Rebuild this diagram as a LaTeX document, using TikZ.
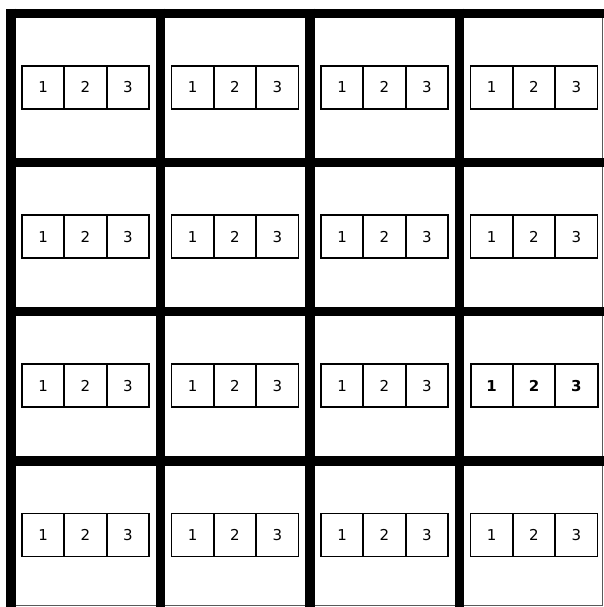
\documentclass[tikz,border=0pt]{standalone}
\usepackage{fontspec}
\setmainfont{DejaVu Sans}
\begin{document}
\begin{tikzpicture}[x=1pt,y=-1pt,
  gridline/.style={line width=9.5pt,black},
  frame/.style={line width=1pt,gray!70!black},
  digitbox/.style={draw,line width=1.8pt,minimum width=42.33pt,minimum height=43pt,inner sep=0pt,
    text height=11pt,text depth=0pt,font=\fontsize{15}{17}\selectfont},
  boldbox/.style={digitbox,line width=2pt,font=\fontsize{15}{17}\selectfont\bfseries}]
\useasboundingbox (0,0) rectangle (604,607);
\fill[white] (0,0) rectangle (604,607);
% thin outer edges
\draw[frame] (6,605.5) -- (602.5,605.5) -- (602.5,9);
% thick grid lines
\foreach \cx in {11,160.5,310,459.5}
  \draw[gridline] (\cx,8.75) -- (\cx,607);
\foreach \cy in {13.5,162.5,311.5,461}
  \draw[gridline] (6.25,\cy) -- (604,\cy);
% digit boxes
\foreach \cx [count=\i] in {11,160.5,310,459.5} {
  \foreach \cy [count=\j] in {13.5,162.5,311.5,461} {
    \foreach \k in {1,2,3} {
      \ifnum\j\i=34 \def\bx{boldbox}\else\def\bx{digitbox}\fi
      \node[\bx] (b\j\i\k) at ({\cx+11+42.333*\k-21.1667},{\cy+74}) {\k};
    }
  }
}
\end{tikzpicture}
\end{document}
